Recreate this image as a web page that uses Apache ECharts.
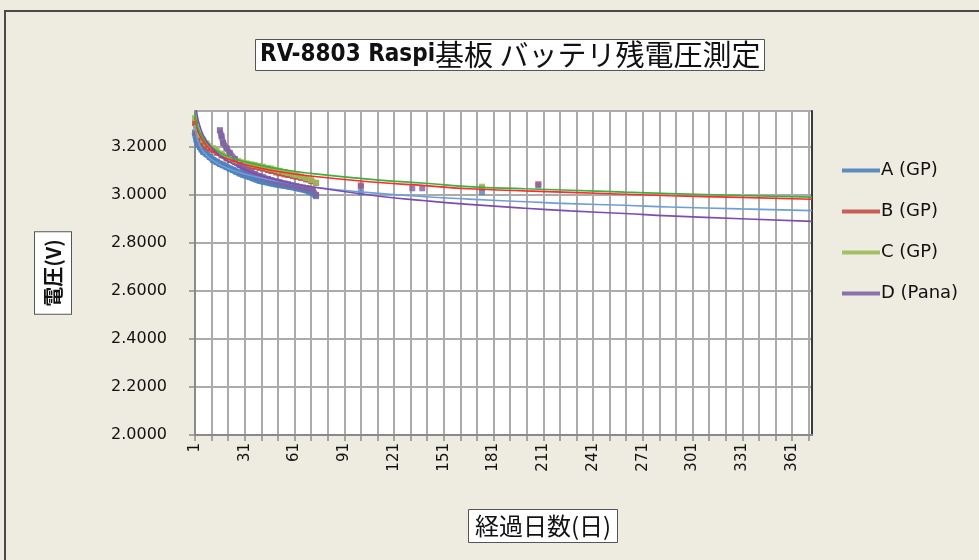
<!DOCTYPE html>
<html>
<head>
<meta charset="utf-8">
<title>RV-8803 Raspi基板 バッテリ残電圧測定</title>
<script src="https://cdn.jsdelivr.net/npm/echarts@6/dist/echarts.min.js"></script>
<style>
    html, body { margin: 0; padding: 0; background: #EEECE1; }
    #mainChart { width: 979px; height: 560px; }
</style>
</head>
<body>
<div id="mainChart"></div>
<script>
/** ----------------データ------------------------------------* */
var seriesNames = ['A (GP)', 'B (GP)', 'C (GP)', 'D (Pana)'];
var seriesColors = ['#4F81BD', '#C0504D', '#9BBB59', '#8064A2'];
var trendColors = ['#6D9EDB', '#FF2A2A', '#3DAF3D', '#7B4DB3'];
var lastDay = 373;

// 実測値 [経過日数, 電圧]
var measA = [[1,3.26],[2,3.23],[3,3.21],[4,3.20],[5,3.19],[6,3.18],[8,3.17],[10,3.158],[12,3.146],[14,3.138],
    [16,3.13],[18,3.124],[20,3.117],[22,3.11],[24,3.104],[26,3.097],[28,3.09],[30,3.085],[32,3.08],[34,3.075],
    [36,3.07],[38,3.065],[40,3.06],[42,3.057],[44,3.054],[46,3.051],[48,3.048],[50,3.045],[52,3.043],[54,3.04],
    [56,3.038],[58,3.035],[60,3.033],[62,3.03],[64,3.027],[66,3.024],[68,3.02],[70,3.015],[72,3.008],[74,2.995]];
var measB = [[1,3.30],[2,3.26],[4,3.229],[6,3.21],[8,3.20],[10,3.193],[12,3.187],[14,3.176],[17,3.165],[20,3.152],
    [22,3.146],[25,3.14],[27,3.135],[30,3.128],[32,3.125],[35,3.12],[37,3.117],[40,3.113],[42,3.11],[45,3.104],
    [47,3.1],[50,3.094],[52,3.09],[55,3.086],[57,3.083],[60,3.079],[62,3.076],[65,3.071],[68,3.065],[71,3.058],[74,3.05]];
var measC = [[1,3.32],[2,3.28],[4,3.25],[6,3.23],[8,3.215],[10,3.204],[12,3.195],[14,3.184],[17,3.172],[20,3.16],
    [22,3.153],[25,3.147],[27,3.142],[30,3.136],[32,3.132],[35,3.128],[37,3.125],[40,3.121],[42,3.118],[45,3.113],
    [47,3.11],[50,3.105],[52,3.101],[55,3.096],[57,3.092],[60,3.087],[62,3.083],[65,3.077],[68,3.07],[71,3.062],[74,3.051]];
var measD = [[16,3.27],[17,3.245],[18,3.217],[20,3.195],[22,3.175],[25,3.15],[28,3.125],[30,3.113],[32,3.104],
    [35,3.094],[37,3.088],[40,3.079],[42,3.074],[45,3.067],[47,3.062],[50,3.057],[52,3.053],[55,3.048],[57,3.045],
    [60,3.04],[62,3.037],[64,3.034],[66,3.031],[68,3.029],[70,3.026],[72,3.02],[74,3.0]];

// 飛び飛びの測定点
var spotA = [[101,3.01],[174,3.012]];
var spotB = [[101,3.04],[174,3.03],[208,3.045]];
var spotC = [[174,3.035]];
var spotD = [[101,3.035],[132,3.028],[138,3.028],[208,3.04]];

// 近似曲線
var trendA = [[1,3.287],[2,3.245],[4,3.205],[7,3.172],[12,3.143],[20,3.113],[32,3.085],[52,3.056],[72,3.033],
    [106,3.01],[140,2.993],[166,2.983],[200,2.972],[227,2.964],[260,2.957],[287,2.95],[330,2.942],[373,2.935]];
var trendB = [[1,3.326],[2,3.286],[4,3.246],[7,3.214],[12,3.181],[20,3.152],[32,3.125],[52,3.097],[72,3.078],
    [112,3.052],[140,3.039],[166,3.026],[200,3.017],[227,3.011],[260,3.003],[287,2.997],[330,2.99],[373,2.982]];
var trendC = [[1,3.34],[2,3.299],[4,3.258],[7,3.225],[12,3.194],[20,3.163],[32,3.137],[52,3.108],[72,3.089],
    [112,3.062],[140,3.049],[166,3.035],[200,3.026],[227,3.02],[260,3.012],[287,3.006],[330,2.998],[373,2.991]];
var trendD = [[1,3.40],[2,3.345],[4,3.285],[7,3.235],[12,3.19],[20,3.144],[32,3.103],[52,3.059],[72,3.033],
    [112,2.995],[140,2.976],[166,2.961],[200,2.945],[227,2.934],[260,2.923],[287,2.913],[330,2.901],[373,2.89]];

var measList = [measA, measB, measC, measD];
var spotList = [spotA, spotB, spotC, spotD];
var trendList = [trendA, trendB, trendC, trendD];
var measWidth = [7, 5, 5, 6];

window.onload = function() {
    initChart();
};

/** --------日数→カテゴリ番号 ------ */
function toIndex(pts) {
    var arr = [];
    for (var i = 0; i < pts.length; i++) {
        arr.push([pts[i][0] - 1, pts[i][1]]);
    }
    return arr;
}

/** --------グラフ描画 ------ */
function initChart() {
    var chart = echarts.init(document.getElementById('mainChart'), null, {renderer: 'canvas'});

    var days = [];
    for (var d = 1; d <= lastDay; d++) {
        days.push(String(d));
    }

    var series = [];
    for (var k = 0; k < 4; k++) {
        series.push({
            name: seriesNames[k],
            type: 'line',
            data: toIndex(measList[k]),
            symbol: 'rect',
            symbolSize: 6,
            showAllSymbol: true,
            lineStyle: {width: measWidth[k], color: seriesColors[k], opacity: 0.85},
            itemStyle: {color: seriesColors[k], opacity: 0.9},
            z: 2
        });
        series.push({
            name: seriesNames[k],
            type: 'scatter',
            data: toIndex(spotList[k]),
            symbol: 'rect',
            symbolSize: 6,
            itemStyle: {color: seriesColors[k]},
            z: 3
        });
    }
    for (var t = 0; t < 4; t++) {
        series.push({
            name: seriesNames[t] + ' trend',
            type: 'line',
            data: toIndex(trendList[t]),
            smooth: true,
            showSymbol: false,
            silent: true,
            lineStyle: {width: 1.6, color: trendColors[t]},
            itemStyle: {color: trendColors[t]},
            z: 5
        });
    }

    var option = {
        animation: false,
        backgroundColor: '#EEECE1',
        title: [{
            text: '{en|RV-8803 Raspi}{ja|基板 バッテリ残電圧測定}',
            left: 255,
            top: 37,
            padding: [1, 4, 1, 5],
            backgroundColor: '#ffffff',
            borderColor: '#555555',
            borderWidth: 1,
            textStyle: {
                rich: {
                    en: {fontFamily: 'DejaVu Sans Condensed', fontWeight: 'bold', fontSize: 24, color: '#111', lineHeight: 34},
                    ja: {fontFamily: 'Noto Sans CJK JP', fontWeight: 'normal', fontSize: 29, color: '#111', lineHeight: 34}
                }
            }
        }, {
            text: '経過日数(日)',
            left: 468,
            top: 509,
            padding: [3, 7, 3, 7],
            backgroundColor: '#ffffff',
            borderColor: '#555555',
            borderWidth: 1,
            textStyle: {fontFamily: 'Noto Sans CJK JP', fontSize: 24, fontWeight: 'normal', color: '#111', lineHeight: 28}
        }],
        graphic: [{
            type: 'rect',
            shape: {x: 5, y: 11, width: 1000, height: 600},
            style: {fill: 'none', stroke: '#4a4a4a', lineWidth: 2},
            silent: true
        }],
        legend: {
            data: seriesNames,
            orient: 'vertical',
            left: 842,
            top: 160,
            padding: 0,
            itemGap: 20,
            itemWidth: 38,
            itemHeight: 4,
            icon: 'rect',
            textStyle: {fontFamily: 'DejaVu Sans', fontSize: 18, color: '#111', lineHeight: 21, padding: [0, 0, 0, -4]}
        },
        grid: {
            left: 195,
            top: 111,
            right: 167,
            bottom: 125,
            show: true,
            backgroundColor: '#ffffff',
            borderColor: '#8a8a8a',
            borderWidth: 1
        },
        xAxis: {
            type: 'category',
            data: days,
            boundaryGap: false,
            axisLine: {lineStyle: {color: '#8a8a8a', width: 2}},
            axisTick: {show: true, interval: 9, length: 6, lineStyle: {color: '#8a8a8a', width: 1.5}},
            axisLabel: {
                interval: 29,
                rotate: 90,
                margin: 8,
                fontFamily: 'DejaVu Sans',
                fontSize: 15,
                color: '#111'
            },
            splitLine: {show: true, interval: 9, lineStyle: {color: '#ababab', width: 2}}
        },
        yAxis: [{
            type: 'value',
            min: 2,
            max: 3.35,
            interval: 0.2,
            name: '電圧(V)',
            nameLocation: 'middle',
            nameRotate: 90,
            nameGap: 124,
            nameTextStyle: {
                fontFamily: 'Noto Sans CJK JP',
                fontSize: 20,
                fontWeight: 'bold',
                color: '#111',
                lineHeight: 24,
                backgroundColor: '#ffffff',
                borderColor: '#555555',
                borderWidth: 1,
                padding: [6, 7, 6, 7]
            },
            axisLine: {show: true, lineStyle: {color: '#8a8a8a', width: 2}},
            axisTick: {show: true, length: 6, lineStyle: {color: '#8a8a8a', width: 1.5}},
            axisLabel: {
                margin: 28,
                fontFamily: 'DejaVu Sans',
                fontSize: 16,
                color: '#111',
                showMaxLabel: false,
                formatter: function(v) {
                    return v.toFixed(4);
                }
            },
            splitLine: {show: true, lineStyle: {color: '#ababab', width: 2}}
        }, {
            type: 'value',
            position: 'right',
            min: 2,
            max: 3.35,
            axisLine: {show: true, lineStyle: {color: '#3a3a3a', width: 2}},
            axisTick: {show: false},
            axisLabel: {show: false},
            splitLine: {show: false}
        }],
        series: series
    };
    chart.setOption(option);
}
</script>
</body>
</html>
